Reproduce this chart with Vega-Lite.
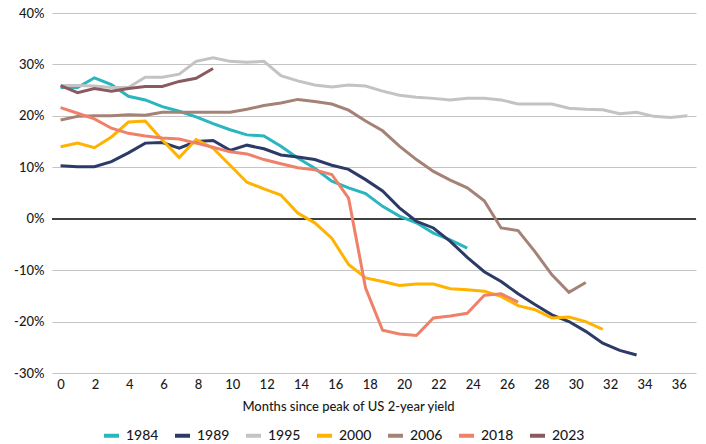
{
  "$schema": "https://vega.github.io/schema/vega-lite/v6.json",
  "width": 644,
  "height": 360,
  "autosize": "none",
  "padding": {"left": 52, "top": 13, "right": 10, "bottom": 71},
  "config": {"view": {"stroke": null}, "font": "Lato", "background": "white"},
  "data": {
    "values": [
      {"s": "1984", "m": 0, "v": 25.5}, {"s": "1984", "m": 0.99, "v": 25.5}, {"s": "1984", "m": 1.97, "v": 27.4},
      {"s": "1984", "m": 2.96, "v": 26.1}, {"s": "1984", "m": 3.95, "v": 23.8}, {"s": "1984", "m": 4.93, "v": 23.1},
      {"s": "1984", "m": 5.92, "v": 21.8}, {"s": "1984", "m": 6.91, "v": 20.9}, {"s": "1984", "m": 7.89, "v": 19.8},
      {"s": "1984", "m": 8.88, "v": 18.5}, {"s": "1984", "m": 9.87, "v": 17.3}, {"s": "1984", "m": 10.85, "v": 16.3},
      {"s": "1984", "m": 11.84, "v": 16.1}, {"s": "1984", "m": 12.83, "v": 14.1}, {"s": "1984", "m": 13.81, "v": 11.8},
      {"s": "1984", "m": 14.8, "v": 9.8}, {"s": "1984", "m": 15.79, "v": 7.3}, {"s": "1984", "m": 16.77, "v": 6.0},
      {"s": "1984", "m": 17.76, "v": 4.9}, {"s": "1984", "m": 18.75, "v": 2.4}, {"s": "1984", "m": 19.73, "v": 0.5},
      {"s": "1984", "m": 20.72, "v": -0.8}, {"s": "1984", "m": 21.71, "v": -2.8}, {"s": "1984", "m": 22.69, "v": -4.1},
      {"s": "1984", "m": 23.68, "v": -5.7},

      {"s": "1989", "m": 0, "v": 10.3}, {"s": "1989", "m": 0.99, "v": 10.1}, {"s": "1989", "m": 1.97, "v": 10.1},
      {"s": "1989", "m": 2.96, "v": 11.1}, {"s": "1989", "m": 3.95, "v": 12.8}, {"s": "1989", "m": 4.93, "v": 14.7},
      {"s": "1989", "m": 5.92, "v": 14.8}, {"s": "1989", "m": 6.91, "v": 13.7}, {"s": "1989", "m": 7.89, "v": 15.0},
      {"s": "1989", "m": 8.88, "v": 15.2}, {"s": "1989", "m": 9.87, "v": 13.3}, {"s": "1989", "m": 10.85, "v": 14.3},
      {"s": "1989", "m": 11.84, "v": 13.6}, {"s": "1989", "m": 12.83, "v": 12.4}, {"s": "1989", "m": 13.81, "v": 12.0},
      {"s": "1989", "m": 14.8, "v": 11.5}, {"s": "1989", "m": 15.79, "v": 10.4}, {"s": "1989", "m": 16.77, "v": 9.6},
      {"s": "1989", "m": 17.76, "v": 7.6}, {"s": "1989", "m": 18.75, "v": 5.4}, {"s": "1989", "m": 19.73, "v": 2.1},
      {"s": "1989", "m": 20.72, "v": -0.5}, {"s": "1989", "m": 21.71, "v": -1.8}, {"s": "1989", "m": 22.69, "v": -4.4},
      {"s": "1989", "m": 23.68, "v": -7.5}, {"s": "1989", "m": 24.67, "v": -10.3}, {"s": "1989", "m": 25.65, "v": -12.2},
      {"s": "1989", "m": 26.64, "v": -14.6}, {"s": "1989", "m": 27.62, "v": -16.7}, {"s": "1989", "m": 28.61, "v": -18.7},
      {"s": "1989", "m": 29.6, "v": -20.0}, {"s": "1989", "m": 30.58, "v": -21.9}, {"s": "1989", "m": 31.57, "v": -24.2},
      {"s": "1989", "m": 32.56, "v": -25.6}, {"s": "1989", "m": 33.54, "v": -26.5},

      {"s": "1995", "m": 0, "v": 25.9}, {"s": "1995", "m": 0.99, "v": 25.9}, {"s": "1995", "m": 1.97, "v": 25.8},
      {"s": "1995", "m": 2.96, "v": 25.5}, {"s": "1995", "m": 3.95, "v": 25.5}, {"s": "1995", "m": 4.93, "v": 27.5},
      {"s": "1995", "m": 5.92, "v": 27.5}, {"s": "1995", "m": 6.91, "v": 28.1}, {"s": "1995", "m": 7.89, "v": 30.6},
      {"s": "1995", "m": 8.88, "v": 31.3}, {"s": "1995", "m": 9.87, "v": 30.6}, {"s": "1995", "m": 10.85, "v": 30.4},
      {"s": "1995", "m": 11.84, "v": 30.6}, {"s": "1995", "m": 12.83, "v": 27.8}, {"s": "1995", "m": 13.81, "v": 26.8},
      {"s": "1995", "m": 14.8, "v": 26.0}, {"s": "1995", "m": 15.79, "v": 25.6}, {"s": "1995", "m": 16.77, "v": 26.0},
      {"s": "1995", "m": 17.76, "v": 25.8}, {"s": "1995", "m": 18.75, "v": 24.8}, {"s": "1995", "m": 19.73, "v": 24.0},
      {"s": "1995", "m": 20.72, "v": 23.6}, {"s": "1995", "m": 21.71, "v": 23.4}, {"s": "1995", "m": 22.69, "v": 23.1},
      {"s": "1995", "m": 23.68, "v": 23.4}, {"s": "1995", "m": 24.67, "v": 23.4}, {"s": "1995", "m": 25.65, "v": 23.1},
      {"s": "1995", "m": 26.64, "v": 22.3}, {"s": "1995", "m": 27.62, "v": 22.3}, {"s": "1995", "m": 28.61, "v": 22.3},
      {"s": "1995", "m": 29.6, "v": 21.5}, {"s": "1995", "m": 30.58, "v": 21.3}, {"s": "1995", "m": 31.57, "v": 21.2},
      {"s": "1995", "m": 32.56, "v": 20.4}, {"s": "1995", "m": 33.54, "v": 20.7}, {"s": "1995", "m": 34.53, "v": 19.9},
      {"s": "1995", "m": 35.52, "v": 19.7}, {"s": "1995", "m": 36.5, "v": 20.0},

      {"s": "2000", "m": 0, "v": 14.0}, {"s": "2000", "m": 0.99, "v": 14.7}, {"s": "2000", "m": 1.97, "v": 13.8},
      {"s": "2000", "m": 2.96, "v": 15.9}, {"s": "2000", "m": 3.95, "v": 18.8}, {"s": "2000", "m": 4.93, "v": 19.0},
      {"s": "2000", "m": 5.92, "v": 15.3}, {"s": "2000", "m": 6.91, "v": 11.9}, {"s": "2000", "m": 7.89, "v": 15.4},
      {"s": "2000", "m": 8.88, "v": 13.7}, {"s": "2000", "m": 9.87, "v": 10.4}, {"s": "2000", "m": 10.85, "v": 7.1},
      {"s": "2000", "m": 11.84, "v": 5.8}, {"s": "2000", "m": 12.83, "v": 4.6}, {"s": "2000", "m": 13.81, "v": 1.1},
      {"s": "2000", "m": 14.8, "v": -0.8}, {"s": "2000", "m": 15.79, "v": -3.8}, {"s": "2000", "m": 16.77, "v": -8.9},
      {"s": "2000", "m": 17.76, "v": -11.5}, {"s": "2000", "m": 18.75, "v": -12.2}, {"s": "2000", "m": 19.73, "v": -13.0},
      {"s": "2000", "m": 20.72, "v": -12.7}, {"s": "2000", "m": 21.71, "v": -12.7}, {"s": "2000", "m": 22.69, "v": -13.6},
      {"s": "2000", "m": 23.68, "v": -13.8}, {"s": "2000", "m": 24.67, "v": -14.1}, {"s": "2000", "m": 25.65, "v": -15.1},
      {"s": "2000", "m": 26.64, "v": -16.9}, {"s": "2000", "m": 27.62, "v": -17.7}, {"s": "2000", "m": 28.61, "v": -19.3},
      {"s": "2000", "m": 29.6, "v": -19.1}, {"s": "2000", "m": 30.58, "v": -20.0}, {"s": "2000", "m": 31.57, "v": -21.5},

      {"s": "2006", "m": 0, "v": 19.2}, {"s": "2006", "m": 0.99, "v": 19.9}, {"s": "2006", "m": 1.97, "v": 20.0},
      {"s": "2006", "m": 2.96, "v": 20.0}, {"s": "2006", "m": 3.95, "v": 20.2}, {"s": "2006", "m": 4.93, "v": 20.1},
      {"s": "2006", "m": 5.92, "v": 20.7}, {"s": "2006", "m": 6.91, "v": 20.7}, {"s": "2006", "m": 7.89, "v": 20.7},
      {"s": "2006", "m": 8.88, "v": 20.7}, {"s": "2006", "m": 9.87, "v": 20.7}, {"s": "2006", "m": 10.85, "v": 21.3},
      {"s": "2006", "m": 11.84, "v": 22.0}, {"s": "2006", "m": 12.83, "v": 22.5}, {"s": "2006", "m": 13.81, "v": 23.2},
      {"s": "2006", "m": 14.8, "v": 22.8}, {"s": "2006", "m": 15.79, "v": 22.3}, {"s": "2006", "m": 16.77, "v": 21.1},
      {"s": "2006", "m": 17.76, "v": 19.0}, {"s": "2006", "m": 18.75, "v": 17.1}, {"s": "2006", "m": 19.73, "v": 14.1},
      {"s": "2006", "m": 20.72, "v": 11.5}, {"s": "2006", "m": 21.71, "v": 9.2}, {"s": "2006", "m": 22.69, "v": 7.5},
      {"s": "2006", "m": 23.68, "v": 6.0}, {"s": "2006", "m": 24.67, "v": 3.5}, {"s": "2006", "m": 25.65, "v": -1.8},
      {"s": "2006", "m": 26.64, "v": -2.3}, {"s": "2006", "m": 27.62, "v": -6.4}, {"s": "2006", "m": 28.61, "v": -10.9},
      {"s": "2006", "m": 29.6, "v": -14.3}, {"s": "2006", "m": 30.58, "v": -12.4},

      {"s": "2018", "m": 0, "v": 21.6}, {"s": "2018", "m": 0.99, "v": 20.5}, {"s": "2018", "m": 1.97, "v": 19.4},
      {"s": "2018", "m": 2.96, "v": 17.6}, {"s": "2018", "m": 3.95, "v": 16.6}, {"s": "2018", "m": 4.93, "v": 16.1},
      {"s": "2018", "m": 5.92, "v": 15.7}, {"s": "2018", "m": 6.91, "v": 15.5}, {"s": "2018", "m": 7.89, "v": 14.7},
      {"s": "2018", "m": 8.88, "v": 13.9}, {"s": "2018", "m": 9.87, "v": 13.0}, {"s": "2018", "m": 10.85, "v": 12.6},
      {"s": "2018", "m": 11.84, "v": 11.5}, {"s": "2018", "m": 12.83, "v": 10.7}, {"s": "2018", "m": 13.81, "v": 9.9},
      {"s": "2018", "m": 14.8, "v": 9.5}, {"s": "2018", "m": 15.79, "v": 8.6}, {"s": "2018", "m": 16.77, "v": 4.0},
      {"s": "2018", "m": 17.76, "v": -13.5}, {"s": "2018", "m": 18.75, "v": -21.7}, {"s": "2018", "m": 19.73, "v": -22.4},
      {"s": "2018", "m": 20.72, "v": -22.7}, {"s": "2018", "m": 21.71, "v": -19.3}, {"s": "2018", "m": 22.69, "v": -18.9},
      {"s": "2018", "m": 23.68, "v": -18.4}, {"s": "2018", "m": 24.67, "v": -14.9}, {"s": "2018", "m": 25.65, "v": -14.6},
      {"s": "2018", "m": 26.64, "v": -16.2},

      {"s": "2023", "m": 0, "v": 25.9}, {"s": "2023", "m": 0.99, "v": 24.5}, {"s": "2023", "m": 1.97, "v": 25.3},
      {"s": "2023", "m": 2.96, "v": 24.8}, {"s": "2023", "m": 3.95, "v": 25.3}, {"s": "2023", "m": 4.93, "v": 25.7},
      {"s": "2023", "m": 5.92, "v": 25.7}, {"s": "2023", "m": 6.91, "v": 26.7}, {"s": "2023", "m": 7.89, "v": 27.3},
      {"s": "2023", "m": 8.88, "v": 29.2}
    ]
  },
  "layer": [
    {
      "mark": {"type": "rule", "color": "#404040", "strokeWidth": 1.5},
      "encoding": {"y": {"datum": 0}}
    },
    {
      "mark": {"type": "line", "strokeWidth": 3},
      "encoding": {
        "x": {
          "field": "m",
          "type": "quantitative",
          "scale": {"domain": [-0.5, 37], "nice": false, "zero": false},
          "axis": {
            "values": [0, 2, 4, 6, 8, 10, 12, 14, 16, 18, 20, 22, 24, 26, 28, 30, 32, 34, 36],
            "grid": false, "domain": false, "ticks": false,
            "labelPadding": 5, "labelFontSize": 13, "labelFontWeight": 500, "labelColor": "#1a1a1a",
            "title": "Months since peak of US 2-year yield",
            "titleFontSize": 13, "titleFontWeight": 500, "titleColor": "#1a1a1a",
            "titleX": 296, "titleY": 33, "titleBaseline": "middle"
          }
        },
        "y": {
          "field": "v",
          "type": "quantitative",
          "scale": {"domain": [-30, 40], "nice": false},
          "axis": {
            "values": [-30, -20, -10, 0, 10, 20, 30, 40],
            "labelExpr": "datum.value + '%'",
            "title": null, "domain": false, "ticks": false,
            "grid": true, "gridColor": "#C4C4C4", "gridWidth": 1,
            "labelPadding": 8, "labelFontSize": 13, "labelFontWeight": 500, "labelColor": "#1a1a1a"
          }
        },
        "color": {
          "field": "s",
          "type": "nominal",
          "scale": {
            "domain": ["1984", "1989", "1995", "2000", "2006", "2018", "2023"],
            "range": ["#29B6BE", "#2B3A67", "#C3C3C3", "#FFB300", "#A58276", "#EF8069", "#8B5A5E"]
          },
          "legend": {
            "orient": "none", "legendX": 50, "legendY": 413,
            "direction": "horizontal", "columns": 7, "title": null,
            "symbolType": "stroke", "symbolStrokeWidth": 4, "symbolSize": 225,
            "labelFontSize": 14, "labelFontWeight": 500, "labelColor": "#1a1a1a",
            "columnPadding": 8, "labelOffset": 5, "padding": 0
          }
        }
      }
    }
  ]
}
